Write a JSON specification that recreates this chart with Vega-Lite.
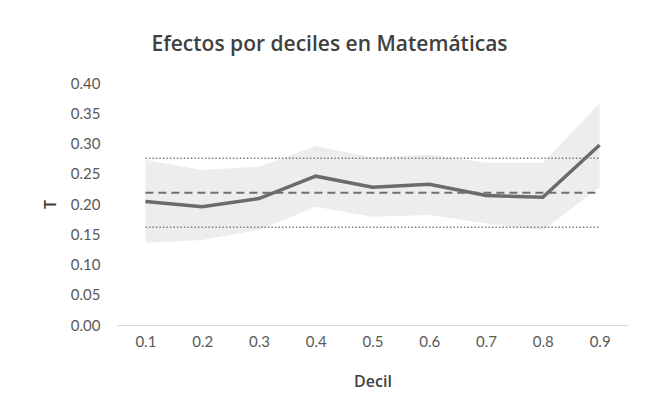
{
  "$schema": "https://vega.github.io/schema/vega-lite/v6.json",
  "width": 511,
  "height": 242,
  "autosize": {"type": "none"},
  "padding": {"left": 117, "top": 83, "right": 26, "bottom": 90},
  "background": "white",
  "title": {
    "text": "Efectos por deciles en Matemáticas",
    "font": "Open Sans",
    "fontSize": 21,
    "fontWeight": 600,
    "color": "#404040",
    "anchor": "middle",
    "dx": -43,
    "baseline": "alphabetic",
    "offset": 4
  },
  "data": {
    "values": [
      {"decil": "0.1", "t": 0.204, "lo": 0.136, "hi": 0.273, "media": 0.2187, "li": 0.1615, "ls": 0.2755},
      {"decil": "0.2", "t": 0.1956, "lo": 0.1405, "hi": 0.256, "media": 0.2187, "li": 0.1615, "ls": 0.2755},
      {"decil": "0.3", "t": 0.209, "lo": 0.157, "hi": 0.2617, "media": 0.2187, "li": 0.1615, "ls": 0.2755},
      {"decil": "0.4", "t": 0.246, "lo": 0.1956, "hi": 0.296, "media": 0.2187, "li": 0.1615, "ls": 0.2755},
      {"decil": "0.5", "t": 0.2276, "lo": 0.179, "hi": 0.277, "media": 0.2187, "li": 0.1615, "ls": 0.2755},
      {"decil": "0.6", "t": 0.2325, "lo": 0.182, "hi": 0.282, "media": 0.2187, "li": 0.1615, "ls": 0.2755},
      {"decil": "0.7", "t": 0.214, "lo": 0.168, "hi": 0.268, "media": 0.2187, "li": 0.1615, "ls": 0.2755},
      {"decil": "0.8", "t": 0.211, "lo": 0.156, "hi": 0.268, "media": 0.2187, "li": 0.1615, "ls": 0.2755},
      {"decil": "0.9", "t": 0.2975, "lo": 0.2276, "hi": 0.366, "media": 0.2187, "li": 0.1615, "ls": 0.2755}
    ]
  },
  "encoding": {
    "x": {
      "field": "decil",
      "type": "ordinal",
      "scale": {"type": "point", "padding": 0.5},
      "axis": {
        "title": "Decil",
        "labelAngle": 0,
        "ticks": false,
        "domain": true,
        "domainColor": "#d9d9d9",
        "domainWidth": 1,
        "labelPadding": 9,
        "titlePadding": 24
      }
    }
  },
  "layer": [
    {
      "mark": {"type": "area", "color": "#ededed", "opacity": 1},
      "encoding": {
        "y": {
          "field": "lo",
          "type": "quantitative",
          "title": "T",
          "scale": {"domain": [0, 0.4], "nice": false},
          "axis": {
            "values": [0, 0.05, 0.1, 0.15, 0.2, 0.25, 0.3, 0.35, 0.4],
            "format": ".2f",
            "labelOverlap": false,
            "grid": false,
            "ticks": false,
            "domain": false,
            "labelPadding": 17,
            "titlePadding": 12
          }
        },
        "y2": {"field": "hi"}
      }
    },
    {
      "mark": {"type": "line", "color": "#7f7f7f", "strokeWidth": 1.5, "strokeDash": [1.5, 2]},
      "encoding": {"y": {"field": "ls", "type": "quantitative", "title": "T", "scale": {"domain": [0, 0.4], "nice": false},
          "axis": {"values": [0, 0.05, 0.1, 0.15, 0.2, 0.25, 0.3, 0.35, 0.4], "format": ".2f", "labelOverlap": false, "grid": false, "ticks": false, "domain": false, "labelPadding": 17, "titlePadding": 12}}}
    },
    {
      "mark": {"type": "line", "color": "#7f7f7f", "strokeWidth": 1.5, "strokeDash": [1.5, 2]},
      "encoding": {"y": {"field": "li", "type": "quantitative", "title": "T", "scale": {"domain": [0, 0.4], "nice": false},
          "axis": {"values": [0, 0.05, 0.1, 0.15, 0.2, 0.25, 0.3, 0.35, 0.4], "format": ".2f", "labelOverlap": false, "grid": false, "ticks": false, "domain": false, "labelPadding": 17, "titlePadding": 12}}}
    },
    {
      "mark": {"type": "line", "color": "#6f6f6f", "strokeWidth": 2, "strokeDash": [8, 5]},
      "encoding": {"y": {"field": "media", "type": "quantitative", "title": "T", "scale": {"domain": [0, 0.4], "nice": false},
          "axis": {"values": [0, 0.05, 0.1, 0.15, 0.2, 0.25, 0.3, 0.35, 0.4], "format": ".2f", "labelOverlap": false, "grid": false, "ticks": false, "domain": false, "labelPadding": 17, "titlePadding": 12}}}
    },
    {
      "mark": {"type": "line", "color": "#6d6a6b", "strokeWidth": 3.5},
      "encoding": {"y": {"field": "t", "type": "quantitative", "title": "T", "scale": {"domain": [0, 0.4], "nice": false},
          "axis": {"values": [0, 0.05, 0.1, 0.15, 0.2, 0.25, 0.3, 0.35, 0.4], "format": ".2f", "labelOverlap": false, "grid": false, "ticks": false, "domain": false, "labelPadding": 17, "titlePadding": 12}}}
    }
  ],
  "config": {
    "view": {"stroke": null},
    "axis": {
      "labelFont": "Lato",
      "labelFontSize": 15,
      "labelColor": "#595959",
      "titleFont": "Open Sans",
      "titleFontSize": 16,
      "titleFontWeight": 600,
      "titleColor": "#404040"
    }
  }
}
